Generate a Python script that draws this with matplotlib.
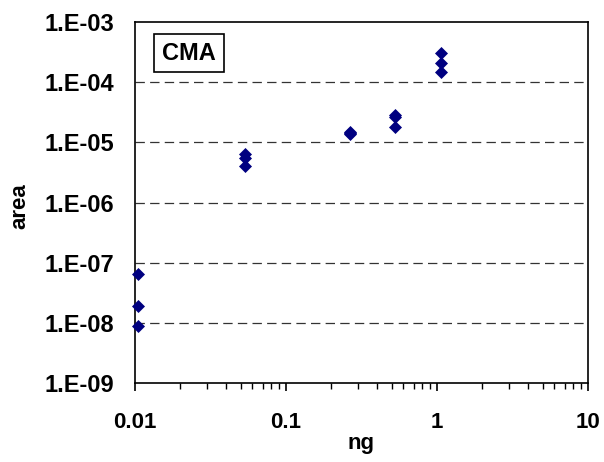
import matplotlib
matplotlib.use("Agg")
import matplotlib.pyplot as plt
from matplotlib.ticker import FixedLocator, NullFormatter, LogLocator

# ------------------------------
# Data
# ------------------------------
ng = [0.0105, 0.0105, 0.0105,
      0.0535, 0.0535, 0.0535,
      0.265, 0.265, 0.265,
      0.527, 0.527, 0.527,
      1.057, 1.057, 1.057]
area = [6.6e-8, 1.9e-8, 8.8e-9,
        6.4e-6, 5.5e-6, 4.1e-6,
        1.5e-5, 1.42e-5, 1.37e-5,
        2.85e-5, 2.7e-5, 1.8e-5,
        3.05e-4, 2.12e-4, 1.5e-4]

y_ticks = [1e-9, 1e-8, 1e-7, 1e-6, 1e-5, 1e-4, 1e-3]
y_labels = ["1.E-09", "1.E-08", "1.E-07", "1.E-06", "1.E-05", "1.E-04", "1.E-03"]
x_ticks = [0.01, 0.1, 1, 10]
x_labels = ["0.01", "0.1", "1", "10"]

plt.rcParams["font.family"] = ["Liberation Sans", "DejaVu Sans"]
plt.rcParams["font.weight"] = "bold"

fig = plt.figure(figsize=(6.04, 4.62), dpi=100)
ax = fig.add_axes([0.2235, 0.171, 0.75, 0.781])

ax.scatter(ng, area, marker="D", s=44, color="#000080", zorder=3, clip_on=False,
           linewidths=0)

ax.set_xscale("log")
ax.set_yscale("log")
ax.set_xlim(0.01, 10)
ax.set_ylim(1e-9, 1e-3)

# horizontal dashed grid at each decade
for yv in y_ticks[1:-1]:
    ax.axhline(yv, color="#333333", lw=0.9, ls=(0, (7.5, 4.2)), zorder=1)

ax.yaxis.set_major_locator(FixedLocator(y_ticks))
ax.set_yticklabels(y_labels)
ax.yaxis.set_minor_formatter(NullFormatter())
ax.tick_params(axis="y", which="both", length=0, pad=15, labelsize=17)

ax.xaxis.set_major_locator(FixedLocator(x_ticks))
ax.set_xticklabels(x_labels)
ax.xaxis.set_minor_locator(LogLocator(base=10, subs=range(2, 10)))
ax.xaxis.set_minor_formatter(NullFormatter())
ax.tick_params(axis="x", which="major", direction="out", length=6, width=1.2,
               pad=15, labelsize=16)
ax.tick_params(axis="x", which="minor", direction="out", length=4, width=1)

for sp in ax.spines.values():
    sp.set_linewidth(1.2)

ax.set_xlabel("ng", fontsize=16, fontweight="bold", labelpad=0)
ax.set_ylabel("area", fontsize=16, fontweight="bold")
ax.yaxis.set_label_coords(-0.231, 0.49)

ax.text(0.119, 0.914, "CMA", transform=ax.transAxes, fontsize=17,
        fontweight="bold", va="center", ha="center",
        bbox=dict(boxstyle="square,pad=0.33", fc="white", ec="black", lw=1.2))

fig.savefig("out.png", dpi=100)
